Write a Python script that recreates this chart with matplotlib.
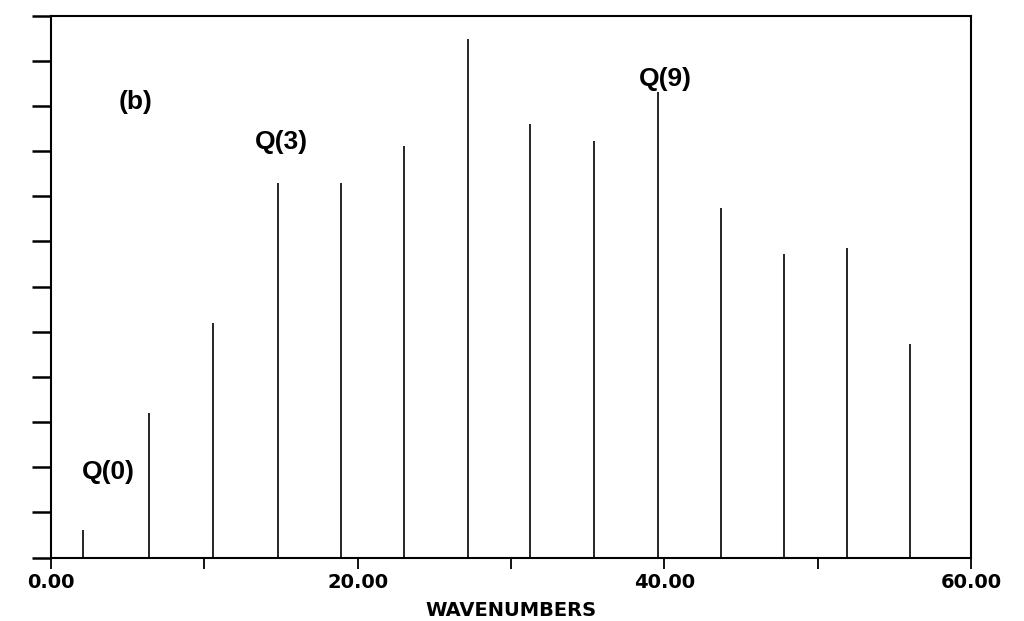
import matplotlib
matplotlib.use("Agg")
import matplotlib.pyplot as plt

# stick spectrum
wavenumbers = [2.09, 6.39, 10.57, 14.81, 18.92, 23.03, 27.2, 31.25, 35.42, 39.6, 43.7, 47.8, 51.9, 56.0]
intensities = [0.60, 3.21, 5.19, 8.29, 8.29, 9.12, 11.48, 9.59, 9.23, 10.3, 7.73, 6.73, 6.86, 4.72]

xticks = [0, 20, 40, 60]
xtick_labels = ["0.00", "20.00", "40.00", "60.00"]

# labels: (text, x, y)
labels = [("(b)", 5.54, 10.08), ("Q(0)", 3.72, 1.89), ("Q(3)", 15.0, 9.21), ("Q(9)", 40.05, 10.59)]


def main():
    fig = plt.figure(figsize=(10.24, 6.21), dpi=100)
    ax = fig.add_axes([0.0498, 0.1022, 0.8984, 0.8728])

    ax.vlines(wavenumbers, 0, intensities, colors="black", linewidth=1.2)

    ax.set_xlim(0, 60)
    ax.set_ylim(0, 12)

    ax.set_xticks(xticks)
    ax.set_xticklabels(xtick_labels, fontsize=14, fontweight="heavy", family="DejaVu Sans")
    ax.set_xticks(range(10, 60, 20), minor=True)
    ax.set_yticks(range(0, 13))
    ax.set_yticklabels([])

    ax.tick_params(axis="x", which="both", direction="out", length=8, width=1.3, pad=3)
    ax.tick_params(axis="y", direction="out", length=14, width=1.8)

    for sp in ax.spines.values():
        sp.set_linewidth(1.5)

    ax.set_xlabel("WAVENUMBERS", fontsize=14, fontweight="heavy", family="DejaVu Sans", va="center")
    ax.xaxis.set_label_coords(0.5, -0.097)

    for txt, x, y in labels:
        ax.text(x, y, txt, ha="center", va="center", fontsize=19,
                fontweight="bold", family="Liberation Sans")

    fig.savefig("out.png", dpi=100, facecolor="white")


if __name__ == "__main__":
    main()
